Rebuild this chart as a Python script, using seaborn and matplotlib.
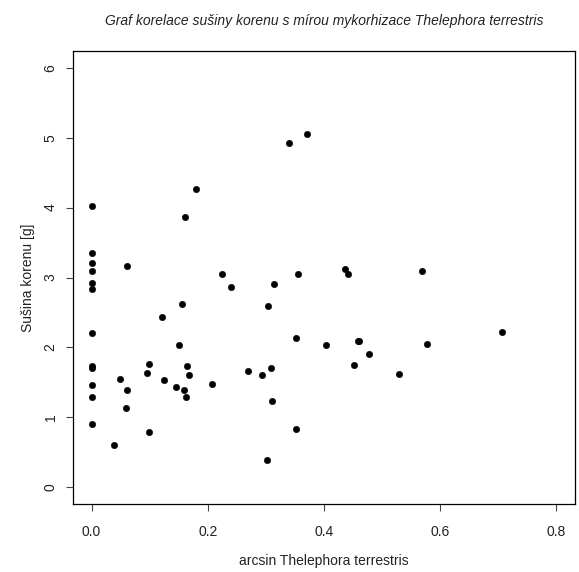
import matplotlib
matplotlib.use("Agg")
import matplotlib.pyplot as plt
import seaborn as sns
import pandas as pd

# arcsin-transformed colonisation by Thelephora terrestris
arcsin_thelephora = [
    0.0, 0.0, 0.0, 0.0, 0.0, 0.0, 0.0, 0.0, 0.0, 0.0, 0.0, 0.0,
    0.038, 0.049, 0.060, 0.061, 0.061,
    0.095, 0.098, 0.099, 0.122, 0.125,
    0.146, 0.150, 0.156, 0.159, 0.161, 0.163, 0.164, 0.168, 0.179,
    0.207, 0.224, 0.240, 0.270, 0.294,
    0.302, 0.304, 0.308, 0.310, 0.314,
    0.340, 0.351, 0.352, 0.356, 0.370,
    0.403, 0.436, 0.441, 0.451, 0.458, 0.461, 0.478,
    0.529, 0.568, 0.577, 0.707,
]

# root dry mass [g]
susina_korenu = [
    4.02, 3.35, 3.21, 3.10, 2.92, 2.84, 2.20, 1.73, 1.71, 1.465, 1.29, 0.91,
    0.60, 1.55, 1.14, 3.16, 1.39,
    1.64, 1.76, 0.79, 2.44, 1.54,
    1.44, 2.04, 2.625, 1.39, 3.86, 1.29, 1.74, 1.61, 4.26,
    1.48, 3.055, 2.87, 1.665, 1.60,
    0.39, 2.59, 1.70, 1.24, 2.90,
    4.93, 0.84, 2.14, 3.055, 5.055,
    2.03, 3.12, 3.055, 1.75, 2.095, 2.095, 1.90,
    1.62, 3.10, 2.05, 2.22,
]

x_ticks = [0.0, 0.2, 0.4, 0.6, 0.8]
x_tick_labels = ["0.0", "0.2", "0.4", "0.6", "0.8"]
y_ticks = [0, 1, 2, 3, 4, 5, 6]
y_tick_labels = ["0", "1", "2", "3", "4", "5", "6"]

df = pd.DataFrame({"arcsin": arcsin_thelephora, "susina": susina_korenu})

sns.set_style("white")
plt.rcParams["font.family"] = ["Liberation Sans", "DejaVu Sans"]

fig = plt.figure(figsize=(5.79, 5.72), dpi=100)
ax = fig.add_axes([73 / 579, 1 - 504 / 572, (575 - 73) / 579, (504 - 51) / 572])

sns.scatterplot(data=df, x="arcsin", y="susina", ax=ax, color="black",
                s=21, edgecolor="black", linewidth=0.4, legend=False)

ax.set_xlim(-0.032, 0.832)
ax.set_ylim(-0.24, 6.24)
ax.set_xticks(x_ticks)
ax.set_xticklabels(x_tick_labels)
ax.set_yticks(y_ticks)
ax.set_yticklabels(y_tick_labels, rotation=90, va="center")

for side in ["left", "right", "top", "bottom"]:
    ax.spines[side].set_visible(True)
    ax.spines[side].set_color("black")
    ax.spines[side].set_linewidth(0.9)

ax.tick_params(axis="both", direction="out", length=5, width=0.8,
               color="#444444", labelsize=10, labelcolor="#222222",
               bottom=True, left=True)
ax.tick_params(axis="x", pad=10)
ax.tick_params(axis="y", pad=6)

ax.set_xlabel("arcsin Thelephora terrestris", fontsize=10, color="#222222", labelpad=11)
ax.set_ylabel("Sušina korenu [g]", fontsize=10, color="#222222", labelpad=6.5)
ax.set_title("Graf korelace sušiny korenu s mírou mykorhizace Thelephora terrestris",
             fontsize=10, style="italic", color="#222222", pad=18.5)

fig.savefig("out.png", dpi=100)
